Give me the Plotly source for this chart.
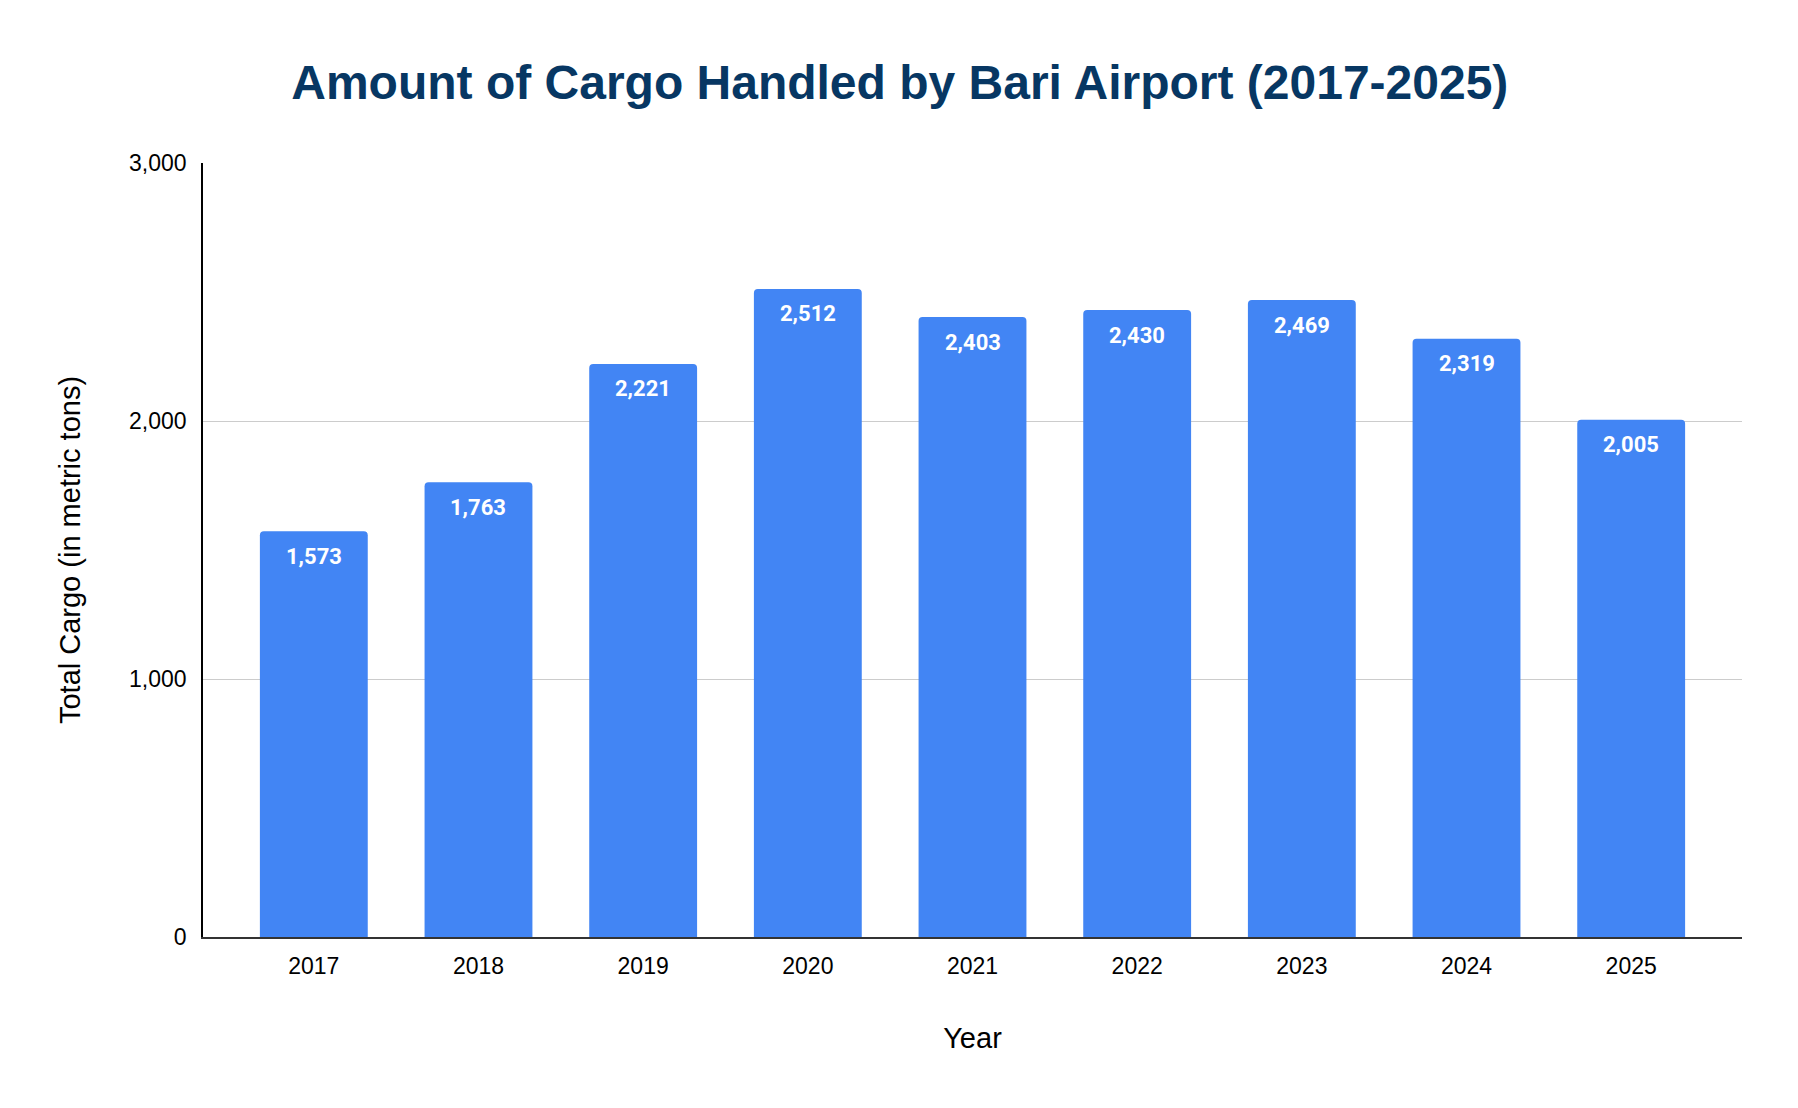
import plotly.graph_objects as go

years = ["2017", "2018", "2019", "2020", "2021", "2022", "2023", "2024", "2025"]
cargo = [1573, 1763, 2221, 2512, 2403, 2430, 2469, 2319, 2005]
y_ticks = [0, 1000, 2000, 3000]

TITLE = "Amount of Cargo Handled by Bari Airport (2017-2025)"
BAR_COLOR = "#4285F4"
FONT = "Liberation Sans, Arial, sans-serif"

fig = go.Figure(
    go.Bar(
        x=years,
        y=cargo,
        marker=dict(color=BAR_COLOR, cornerradius=4, line_width=0),
        hoverinfo="x+y",
    )
)

# value labels just inside the top of each bar
# (x given as category index: numeric-looking strings would be read as indices)
for i, val in enumerate(cargo):
    fig.add_annotation(
        x=i, y=val, text=f"<b>{val:,}</b>", showarrow=False,
        yanchor="middle", yshift=-25,
        font=dict(family="Roboto, " + FONT, size=22, color="white"),
    )

fig.update_layout(
    width=1798,
    height=1108,
    paper_bgcolor="white",
    plot_bgcolor="white",
    bargap=0.345,
    showlegend=False,
    margin=dict(l=195, r=64, t=155, b=179),
    font=dict(family=FONT, color="#000000"),
    title=dict(
        text=TITLE,
        x=0.496, xanchor="center",
        y=1 - 74 / 1108, yanchor="middle", yref="container",
        font=dict(family=FONT, size=48, color="#073763", weight="bold"),
    ),
)

fig.update_xaxes(
    type="category",
    range=[-0.673, len(years) - 1 + 0.673],
    showgrid=False,
    showline=True, linecolor="#333333", linewidth=1.5,
    ticks="", ticklabelstandoff=8,
    tickfont=dict(size=23, color="#000000"),
    title=dict(text="Year", font=dict(size=29, color="#000000"), standoff=49),
)

fig.update_yaxes(
    range=[0, 3000],
    tickvals=y_ticks,
    tickformat=",",
    showgrid=True, gridcolor="#cccccc", gridwidth=1,
    zeroline=False,
    showline=True, linecolor="#000000", linewidth=1.5,
    ticks="", ticklabelstandoff=10,
    tickfont=dict(size=23, color="#000000"),
    title=dict(text="Total Cargo (in metric tons)", font=dict(size=29, color="#000000"), standoff=40),
)

fig.write_html("out.html")
